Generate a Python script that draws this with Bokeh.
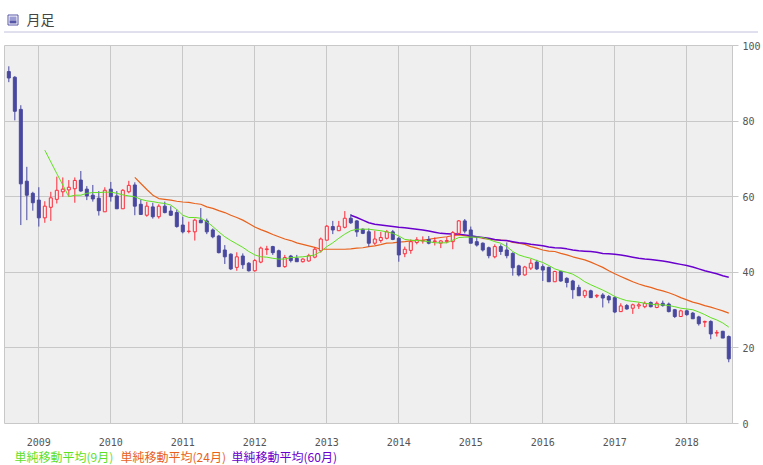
from bokeh.plotting import figure
from bokeh.layouts import column, row
from bokeh.models import Range1d, FixedTicker, ColumnDataSource
from bokeh.core.properties import value
from bokeh.embed import file_html
from bokeh.resources import INLINE

# ---------------- data ----------------
title_text = "月足"
first_month = (2008, 8)          # first candle = Aug 2008
year_labels = ["2009", "2010", "2011", "2012", "2013", "2014", "2015", "2016", "2017", "2018"]
y_ticks = [0, 20, 40, 60, 80, 100]

opens = [93.1, 91.6, 83.1, 64.1, 60.9, 59.1, 54.4, 57.2, 59.3, 61.3,
         61.8, 62.1, 64.4, 62.0, 60.4, 59.6, 56.0, 62.0, 60.2, 56.8,
         61.3, 63.1, 58.0, 55.1, 57.3, 54.7, 57.5, 56.2, 55.8, 52.5,
         50.8, 50.7, 53.8, 53.6, 51.2, 49.6, 45.9, 44.8, 41.3, 44.3,
         42.4, 40.4, 42.7, 46.0, 46.8, 45.7, 41.5, 44.3, 43.7, 42.8,
         43.0, 44.0, 45.7, 48.5, 52.1, 51.0, 51.9, 54.3, 53.6, 51.4,
         50.7, 47.7, 48.4, 49.0, 50.7, 49.0, 44.9, 45.8, 47.9, 48.3,
         48.7, 48.1, 47.7, 48.1, 48.1, 50.3, 53.6, 51.2, 48.1, 47.7,
         46.5, 44.1, 46.8, 45.9, 45.0, 41.7, 39.3, 41.1, 42.7, 41.5,
         41.3, 37.5, 40.2, 38.4, 37.7, 36.0, 33.8, 35.1, 33.7, 34.0,
         33.6, 33.3, 29.6, 31.2, 30.5, 31.1, 30.9, 32.0, 30.7, 31.8,
         31.6, 30.1, 28.3, 29.8, 29.2, 28.2, 26.8, 27.0, 23.9, 24.4,
         23.0]
highs = [94.5, 91.9, 84.2, 67.9, 61.3, 62.5, 58.8, 61.3, 65.3, 65.1,
         64.4, 65.1, 66.8, 62.8, 63.1, 61.5, 62.5, 63.9, 61.5, 62.0,
         64.2, 63.8, 59.3, 58.6, 58.4, 58.0, 58.7, 57.5, 56.6, 54.7,
         53.4, 54.2, 57.0, 54.2, 51.6, 49.9, 47.2, 45.0, 45.3, 45.0,
         42.7, 43.5, 46.8, 47.0, 47.0, 46.0, 44.6, 44.6, 44.6, 43.7,
         44.9, 46.6, 49.2, 52.5, 53.6, 53.6, 56.2, 55.4, 53.8, 51.6,
         51.6, 51.0, 50.7, 51.2, 51.2, 49.4, 46.8, 48.7, 49.3, 49.5,
         49.6, 49.2, 48.5, 49.3, 50.9, 53.8, 54.1, 52.1, 49.6, 47.9,
         46.8, 47.4, 47.4, 47.9, 45.3, 42.0, 41.7, 43.5, 43.3, 42.1,
         41.5, 40.4, 40.4, 38.7, 38.0, 36.7, 35.4, 35.4, 34.2, 34.5,
         34.0, 33.6, 31.8, 31.6, 31.7, 32.0, 32.3, 32.3, 32.3, 32.5,
         32.0, 30.3, 30.1, 30.1, 29.5, 28.5, 27.2, 27.3, 24.7, 24.5,
         23.3]
lows = [90.3, 80.2, 52.5, 53.8, 56.3, 52.1, 53.1, 53.6, 58.2, 60.0,
        60.0, 58.4, 61.3, 59.1, 58.7, 55.0, 56.0, 58.7, 56.8, 56.8,
        60.9, 55.1, 55.3, 54.7, 54.2, 54.2, 55.6, 54.9, 51.8, 50.3,
        50.3, 48.4, 53.1, 50.1, 49.0, 45.0, 42.2, 40.6, 40.4, 40.9,
        40.2, 40.2, 42.4, 44.6, 44.6, 41.5, 41.2, 42.6, 42.8, 42.6,
        42.8, 43.7, 45.2, 48.4, 50.1, 51.0, 51.6, 52.8, 49.4, 50.1,
        46.8, 47.2, 47.8, 48.7, 48.5, 42.8, 44.0, 44.9, 47.4, 47.6,
        47.4, 47.1, 46.4, 47.7, 46.1, 50.0, 50.3, 47.7, 46.8, 45.5,
        43.7, 43.7, 44.6, 43.7, 39.1, 38.9, 39.1, 40.6, 40.6, 37.7,
        37.5, 37.5, 37.5, 36.0, 33.0, 33.8, 33.2, 33.3, 33.2, 30.7,
        31.8, 29.2, 29.6, 30.1, 29.0, 30.3, 30.5, 30.7, 30.5, 30.9,
        29.4, 27.9, 28.3, 28.5, 27.7, 25.9, 25.5, 22.3, 23.0, 22.6,
        16.2]
closes = [91.4, 82.6, 63.4, 60.4, 58.4, 54.4, 57.5, 59.7, 61.7, 62.0,
          62.5, 64.3, 61.5, 60.2, 59.4, 56.3, 61.7, 60.0, 56.8, 61.7,
          63.0, 57.5, 55.3, 57.5, 54.7, 57.5, 55.8, 55.1, 52.1, 50.7,
          50.9, 53.8, 53.1, 50.7, 49.4, 45.2, 44.1, 40.9, 44.1, 42.0,
          40.4, 43.1, 46.4, 46.2, 45.2, 41.5, 43.9, 43.1, 42.8, 43.5,
          44.4, 46.1, 48.8, 52.2, 51.2, 52.2, 54.3, 53.1, 50.7, 50.3,
          47.7, 48.8, 49.2, 50.7, 48.7, 44.6, 46.1, 48.1, 48.6, 48.4,
          47.7, 48.3, 48.3, 48.4, 50.5, 53.6, 50.9, 47.7, 47.2, 45.9,
          44.4, 46.8, 45.5, 44.4, 41.2, 39.3, 41.4, 42.4, 40.9, 40.6,
          37.5, 40.2, 37.7, 37.3, 35.4, 33.8, 35.1, 33.3, 33.9, 33.2,
          32.7, 29.5, 31.1, 30.3, 31.4, 31.4, 31.8, 30.9, 31.8, 31.2,
          29.6, 28.3, 29.8, 28.8, 27.7, 26.4, 27.0, 23.7, 24.1, 22.6,
          17.1]

# moving averages, with the index of their first candle
ma9_start = 6
ma9 = [72.3, 69.2, 66.1, 63.1, 60.0, 60.4, 60.4, 60.9, 61.1, 61.1,
       61.2, 61.2, 60.9, 60.5, 60.2, 60.0, 59.3, 58.9, 58.7, 58.4,
       58.2, 57.8, 56.6, 55.1, 54.5, 54.5, 54.3, 53.4, 52.1, 50.7,
       49.4, 48.4, 47.5, 46.6, 45.5, 44.6, 44.1, 44.0, 43.7, 43.5,
       43.5, 43.9, 44.0, 44.1, 44.3, 44.6, 45.5, 46.8, 47.8, 49.0,
       50.1, 51.0, 51.4, 51.4, 51.4, 51.2, 51.0, 50.7, 50.3, 49.6,
       48.7, 48.5, 48.4, 48.3, 48.1, 47.8, 47.8, 47.8, 48.5, 49.2,
       49.3, 49.3, 49.3, 49.2, 48.7, 48.1, 47.7, 46.8, 45.5, 44.6,
       44.1, 43.7, 43.1, 42.6, 41.8, 40.9, 40.4, 40.0, 39.5, 38.6,
       37.5, 36.7, 36.0, 35.3, 34.5, 33.6, 33.0, 32.5, 32.3, 32.1,
       31.8, 31.6, 31.4, 31.4, 31.2, 30.9, 30.5, 30.3, 30.1, 29.5,
       28.8, 28.0, 27.4, 26.6, 25.5]
ma24_start = 21
ma24 = [65.1, 63.5, 61.9, 60.4, 59.5, 59.3, 59.1, 58.8, 58.6, 58.5,
        58.2, 58.0, 57.3, 56.9, 56.3, 55.8, 55.1, 54.5, 53.8, 52.9,
        52.0, 51.3, 50.7, 50.0, 49.4, 48.8, 48.4, 47.8, 47.4, 47.0,
        46.6, 46.1, 46.1, 46.1, 46.1, 46.1, 46.2, 46.4, 46.5, 46.8,
        47.0, 47.3, 47.7, 47.8, 48.0, 48.1, 48.3, 48.4, 48.5, 48.7,
        49.0, 49.2, 49.4, 49.7, 49.9, 49.7, 49.4, 49.3, 49.0, 48.8,
        48.6, 48.5, 48.4, 47.9, 47.7, 47.4, 46.8, 46.4, 45.9, 45.6,
        45.5, 45.0, 44.6, 44.1, 43.7, 43.3, 42.7, 42.0, 41.3, 40.4,
        39.6, 38.9, 38.2, 37.5, 36.9, 36.4, 36.0, 35.5, 35.1, 34.6,
        34.0, 33.3, 32.7, 32.1, 31.7, 31.2, 30.8, 30.3, 29.8, 29.2]
ma60_start = 57
ma60 = [55.1, 54.5, 53.8, 53.1, 52.7, 52.5, 52.3, 52.1, 51.9, 51.8,
        51.6, 51.4, 51.2, 50.9, 50.6, 50.3, 50.2, 50.1, 50.1, 49.9,
        49.7, 49.4, 49.2, 49.0, 48.7, 48.5, 48.4, 48.1, 47.8, 47.7,
        47.4, 47.2, 47.0, 46.7, 46.5, 46.4, 46.2, 45.9, 45.7, 45.6,
        45.5, 45.3, 45.0, 44.9, 44.8, 44.6, 44.3, 44.0, 43.7, 43.5,
        43.4, 43.2, 43.0, 42.7, 42.4, 42.1, 41.8, 41.4, 40.9, 40.4,
        40.0, 39.6, 39.1, 38.7]

legend_labels = ["単純移動平均(9月)", "単純移動平均(24月)", "単純移動平均(60月)"]
legend_colors = ["#5fe01e", "#e8621c", "#6a00cc"]

# ---------------- styles ----------------
UP = "#ff2a3a"
DOWN = "#4848a0"
BG = "#efefef"
GRID = "#c8c8c8"
LABEL = "#555555"
CJK = "Noto Sans CJK JP"
W = 763

# ---------------- header ----------------
hdr = figure(width=W, height=37, x_range=Range1d(0, W), y_range=Range1d(37, 0),
             output_backend="svg", toolbar_location=None,
             x_axis_location=None, y_axis_location=None,
             min_border=0, outline_line_color=None)
hdr.grid.visible = False
hdr.quad(left=[7.5], right=[17.5], top=[14.5], bottom=[24.5],
         fill_color="white", line_color="#5656a8", line_width=1)
hdr.quad(left=[9], right=[16], top=[16], bottom=[20], fill_color="#9c9cd4", line_color=None)
hdr.quad(left=[9], right=[16], top=[20], bottom=[23], fill_color="#5656a8", line_color=None)
hdr.text(x=[26], y=[18.5], text=[title_text], text_font=value(CJK),
         text_font_size="14px", text_color="#444444",
         text_align="left", text_baseline="middle")
hdr.segment(x0=[4], y0=[31.5], x1=[758], y1=[31.5], line_color="#8080b8",
            line_width=1, line_dash="1 1")

# ---------------- main chart ----------------
n = len(opens)
xs = list(range(n))
up = [c >= o for o, c in zip(opens, closes)]

def subset(flag):
    idx = [i for i in xs if up[i] == flag]
    return ColumnDataSource(dict(
        x=idx,
        high=[highs[i] for i in idx],
        low=[lows[i] for i in idx],
        top=[max(opens[i], closes[i]) for i in idx],
        bottom=[min(opens[i], closes[i]) for i in idx],
    ))

src_up = subset(True)
src_dn = subset(False)

p = figure(width=W, height=411, x_range=Range1d(-0.72, 120.62), y_range=Range1d(0, 100),
           output_backend="svg", toolbar_location=None,
           x_axis_location="below", y_axis_location="right",
           min_border_left=4, min_border_right=31, min_border_top=8, min_border_bottom=24)
p.background_fill_color = BG
p.border_fill_color = "white"
p.outline_line_color = GRID
p.outline_line_width = 1

y0, m0 = first_month
year_ticks = [(int(lab) - y0) * 12 + (1 - m0) for lab in year_labels]
xt = FixedTicker(ticks=year_ticks)
p.xaxis.ticker = xt
p.xgrid.ticker = xt
p.xaxis.major_label_overrides = {t: lab for t, lab in zip(year_ticks, year_labels)}
p.xaxis.axis_line_color = None
p.xaxis.major_tick_line_color = None
p.xaxis.minor_tick_line_color = None
p.xaxis.major_label_standoff = 8
p.xaxis.major_label_text_font = "DejaVu Sans Mono"
p.xaxis.major_label_text_font_size = "10px"
p.xaxis.major_label_text_color = LABEL

yt = FixedTicker(ticks=y_ticks)
p.yaxis.ticker = yt
p.ygrid.ticker = yt
p.yaxis.axis_line_color = GRID
p.yaxis.major_tick_line_color = GRID
p.yaxis.major_tick_out = 6
p.yaxis.major_tick_in = 0
p.yaxis.minor_tick_line_color = None
p.yaxis.major_label_standoff = 4
p.yaxis.major_label_text_font = "DejaVu Sans Mono"
p.yaxis.major_label_text_font_size = "10px"
p.yaxis.major_label_text_color = LABEL

p.grid.grid_line_color = GRID
p.grid.grid_line_width = 1

p.line(x=list(range(ma24_start, ma24_start + len(ma24))), y=ma24,
       line_color=legend_colors[1], line_width=1.2)
p.line(x=list(range(ma60_start, ma60_start + len(ma60))), y=ma60,
       line_color=legend_colors[2], line_width=1.5)

p.segment(x0="x", y0="high", x1="x", y1="low", source=src_dn, line_color=DOWN, line_width=1)
p.segment(x0="x", y0="high", x1="x", y1="low", source=src_up, line_color=UP, line_width=1)
p.vbar(x="x", width=0.5, top="top", bottom="bottom", source=src_dn,
       fill_color=DOWN, line_color=DOWN, line_width=1)
p.vbar(x="x", width=0.5, top="top", bottom="bottom", source=src_up,
       fill_color=BG, line_color=UP, line_width=1)

p.line(x=list(range(ma9_start, ma9_start + len(ma9))), y=ma9,
       line_color=legend_colors[0], line_width=1)

# ---------------- footer legend ----------------
ftr = figure(width=W, height=17, x_range=Range1d(0, W), y_range=Range1d(17, 0),
             output_backend="svg", toolbar_location=None,
             x_axis_location=None, y_axis_location=None,
             min_border=0, outline_line_color=None)
ftr.grid.visible = False
ftr.text(x=[14, 120, 231], y=[7.5, 7.5, 7.5], text=legend_labels,
         text_color=legend_colors, text_font=value(CJK), text_font_size="12px",
         text_align="left", text_baseline="middle")

# header/footer wrapped in their own rows so their frames are not aligned to the chart's
layout = column(row(hdr), p, row(ftr))
open("out.html", "w").write(file_html(layout, INLINE))
